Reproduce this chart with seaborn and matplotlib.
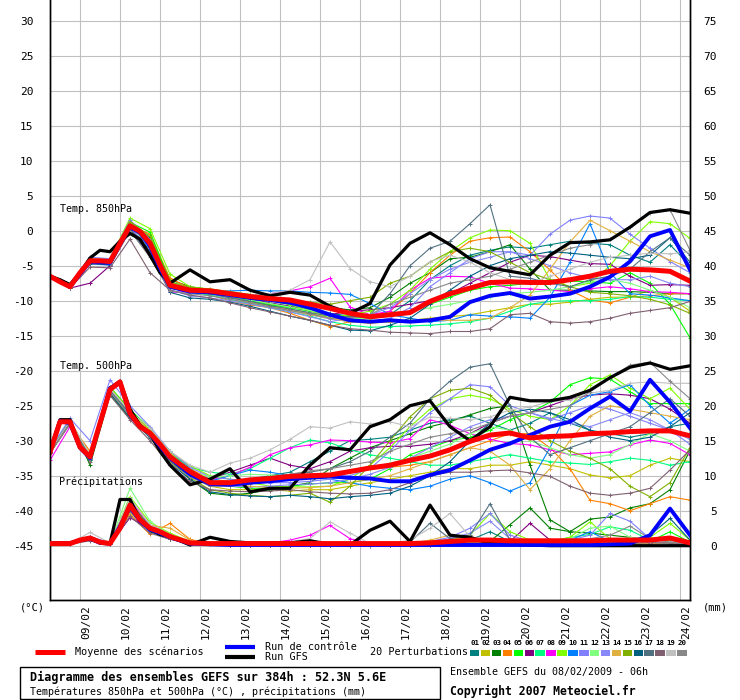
import matplotlib
matplotlib.use("Agg")
import matplotlib.pyplot as plt
import seaborn as sns
from matplotlib.lines import Line2D
from matplotlib.patches import Rectangle
from matplotlib.transforms import ScaledTranslation

# ---------------- data ----------------
MAIN_HOURS = [0, 6, 12, 18, 24, 30, 36, 42, 48, 54, 60, 66, 72,
              84, 96, 108, 120, 132, 144, 156, 168, 180, 192, 204, 216, 228,
              240, 252, 264, 276, 288, 300, 312, 324, 336, 348, 360, 372, 384]
PERT_HOURS = [0, 12, 24, 36, 48, 60, 72, 84, 96, 108, 120, 132, 144, 156,
              168, 180, 192, 204, 216, 228, 240, 252, 264, 276, 288, 300,
              312, 324, 336, 348, 360, 372, 384]
DAY_HOURS = [18, 42, 66, 90, 114, 138, 162, 186, 210, 234, 258, 282, 306, 330, 354, 378]
DAY_LABELS = ["09/02", "10/02", "11/02", "12/02", "13/02", "14/02", "15/02", "16/02",
              "17/02", "18/02", "19/02", "20/02", "21/02", "22/02", "23/02", "24/02"]

T850_MEAN = [-6.5, -7.3, -8.0, -6.0, -4.3, -4.3, -4.4, -1.8, 0.7, -0.1, -1.8, -4.9, -7.8,
             -8.5, -8.6, -9.0, -9.4, -9.7, -9.9, -10.5, -11.1, -11.8, -12.3, -12.0, -11.7, -10.1,
             -9.0, -8.2, -7.4, -7.3, -7.4, -7.4, -7.0, -6.5, -5.8, -5.5, -5.6, -5.8, -7.2]
T850_CTRL = [-6.5, -7.3, -8.0, -6.2, -4.4, -4.5, -4.6, -1.8, 0.5, -0.3, -2.2, -5.4, -8.0,
             -8.7, -8.8, -9.2, -9.6, -9.9, -10.3, -11.0, -12.0, -12.8, -13.0, -12.8, -13.0, -12.8,
             -12.3, -10.2, -9.3, -8.9, -9.7, -9.4, -9.0, -8.0, -6.6, -4.4, -0.8, 0.1, -5.6]
T850_GFS = [-6.5, -7.0, -7.7, -6.0, -3.9, -2.8, -3.0, -1.5, -0.4, -1.2, -3.5, -6.0, -7.5,
            -5.6, -7.3, -7.0, -8.5, -9.3, -8.8, -9.2, -10.8, -11.8, -10.4, -4.9, -1.8, -0.3,
            -2.0, -4.0, -5.3, -5.8, -6.3, -3.5, -1.7, -1.6, -1.3, 0.5, 2.6, 3.0, 2.5]

T500_MEAN = [-31.6, -27.3, -27.3, -30.9, -32.3, -27.5, -22.7, -21.6, -26.1, -28.0, -28.9, -30.5, -32.3,
             -34.4, -36.0, -36.0, -35.6, -35.4, -35.1, -35.0, -34.9, -34.4, -33.9, -33.5, -32.8, -32.2,
             -31.3, -30.1, -29.2, -28.9, -29.6, -29.4, -29.3, -29.0, -28.9, -28.7, -28.6, -28.6, -29.3]
T500_CTRL = [-31.5, -27.2, -27.5, -31.0, -32.5, -27.5, -22.5, -21.8, -26.3, -28.0, -29.0, -30.8, -32.5,
             -34.8, -36.2, -36.3, -36.0, -35.8, -35.5, -35.3, -35.1, -35.3, -35.4, -35.8, -35.8, -34.9,
             -34.2, -32.8, -31.3, -30.4, -29.2, -28.0, -27.3, -25.4, -23.7, -25.8, -21.3, -24.5, -28.2]
T500_GFS = [-31.6, -27.0, -27.0, -31.0, -32.5, -27.5, -22.5, -21.5, -25.5, -27.8, -29.0, -31.5, -33.5,
            -36.3, -35.5, -34.0, -37.3, -36.8, -36.8, -33.5, -31.0, -31.3, -28.0, -27.0, -25.0, -24.3,
            -28.0, -30.0, -28.0, -23.8, -24.3, -24.3, -23.8, -22.8, -21.0, -19.5, -18.9, -19.8, -19.3]

PRECIP_MEAN = [0.3, 0.3, 0.3, 0.8, 1.1, 0.5, 0.3, 2.5, 5.8, 3.7, 2.5, 2.0, 1.3,
               0.4, 0.3, 0.3, 0.3, 0.3, 0.3, 0.3, 0.3, 0.3, 0.3, 0.3, 0.3, 0.4,
               0.6, 0.8, 0.8, 0.7, 0.7, 0.7, 0.7, 0.7, 0.8, 0.8, 0.8, 1.1, 0.4]
PRECIP_CTRL = [0.3, 0.3, 0.3, 0.8, 1.0, 0.4, 0.3, 2.8, 5.5, 3.5, 2.3, 1.8, 1.2,
               0.3, 0.2, 0.1, 0.1, 0.1, 0.1, 0.1, 0.1, 0.1, 0.1, 0.1, 0.1, 0.1,
               0.1, 0.1, 0.1, 0.1, 0.1, 0.1, 0.1, 0.1, 0.2, 0.3, 1.5, 5.3, 1.5]
PRECIP_GFS = [0.4, 0.4, 0.4, 0.8, 1.0, 0.4, 0.3, 6.6, 6.6, 3.7, 2.3, 1.6, 1.3,
              0.1, 1.2, 0.6, 0.4, 0.4, 0.4, 0.7, 0.2, 0.1, 2.2, 3.5, 0.6, 5.8,
              1.5, 1.2, 0.3, 0.2, 0.1, 0.0, 0.0, 0.0, 0.0, 0.0, 0.0, 0.0, 0.0]

PERT_LABELS = ["01", "02", "03", "04", "05", "06", "07", "08", "09", "10",
               "11", "12", "13", "14", "15", "16", "17", "18", "19", "20"]
PERT_COLORS = ["#008080", "#c0c000", "#008000", "#ff8000", "#00ff00", "#800080", "#00ff80",
               "#ff00ff", "#80ff00", "#0080ff", "#8080ff", "#80ff80", "#8888f8", "#e0b040",
               "#80b000", "#006080", "#507080", "#806070", "#c0c0c0", "#888888"]

T850_PERTS = [
    [-6.5, -7.9, -4.5, -4.8, 0.2, -3.0, -8.2, -8.8, -9.0, -9.5, -10.0, -10.4, -10.8, -11.2, -11.8, -12.2, -12.3, -12.0, -10.0, -7.0, -5.0, -3.5, -2.8, -2.3, -2.5, -2.0, -1.5, -1.8, -2.0, -3.5, -4.5, -2.0, -5.0],
    [-6.6, -8.1, -4.0, -4.2, 1.5, -1.5, -7.5, -8.3, -8.5, -9.2, -9.8, -10.5, -11.2, -11.8, -12.5, -13.0, -13.2, -13.0, -12.8, -12.5, -12.3, -12.0, -11.5, -11.0, -10.5, -10.5, -10.2, -9.8, -9.5, -9.5, -8.5, -9.5, -11.5],
    [-6.4, -7.9, -4.2, -4.3, 1.0, -1.0, -7.0, -8.0, -8.4, -8.8, -9.3, -9.8, -10.2, -10.6, -11.0, -11.3, -11.0, -9.5, -7.5, -6.0, -4.0, -3.8, -3.0, -2.0, -5.5, -8.5, -8.5, -8.6, -8.7, -8.7, -8.8, -9.0, -9.0],
    [-6.5, -8.0, -4.4, -4.6, 0.8, -0.5, -6.8, -8.2, -9.2, -10.0, -10.6, -11.0, -11.8, -12.8, -13.7, -13.0, -12.5, -11.5, -9.0, -6.0, -3.5, -1.5, -1.0, -0.9, -3.0, -5.6, -8.5, -9.9, -10.3, -9.5, -9.3, -9.0, -9.0],
    [-6.5, -8.0, -4.3, -4.2, 1.2, -0.2, -7.2, -8.4, -8.8, -9.4, -10.0, -10.6, -11.0, -11.5, -12.0, -12.3, -12.5, -12.2, -11.5, -10.5, -9.5, -8.5, -8.0, -7.8, -7.5, -7.0, -7.2, -7.3, -7.5, -6.0, -7.5, -10.5, -15.3],
    [-6.7, -8.2, -7.5, -5.0, 0.0, -3.5, -8.0, -8.6, -8.9, -9.3, -9.8, -10.3, -10.8, -11.4, -12.0, -11.5, -11.3, -11.0, -10.5, -10.0, -9.0, -7.5, -6.0, -4.5, -3.5, -3.7, -4.2, -4.7, -4.8, -6.5, -7.8, -7.7, -7.8],
    [-6.5, -8.0, -4.5, -4.6, 0.6, -2.0, -8.0, -8.8, -9.2, -9.8, -10.4, -11.0, -11.6, -12.2, -13.0, -13.5, -13.8, -13.7, -13.6, -13.5, -13.3, -13.0, -12.5, -11.5, -10.5, -10.1, -10.0, -10.0, -9.8, -9.4, -9.5, -9.8, -10.0],
    [-6.6, -8.1, -4.6, -4.7, 0.4, -3.2, -8.8, -8.7, -8.8, -9.0, -9.2, -9.0, -8.6, -8.0, -6.8, -10.9, -12.0, -11.5, -8.5, -6.8, -6.5, -6.6, -7.5, -8.2, -8.3, -8.5, -8.7, -8.3, -8.0, -8.3, -8.7, -8.8, -9.0],
    [-6.5, -7.9, -4.1, -4.0, 1.8, 0.3, -6.2, -8.0, -8.4, -8.9, -9.4, -10.0, -10.6, -11.4, -12.5, -12.0, -11.5, -10.5, -8.5, -5.5, -3.0, -1.0, 0.1, 0.0, -1.8, -7.0, -8.0, -7.5, -5.0, -1.5, 1.3, 1.0, -1.1],
    [-6.5, -8.0, -4.4, -4.5, 0.5, -2.6, -8.0, -8.6, -8.7, -8.6, -8.5, -8.6, -8.6, -8.8, -8.9, -9.1, -10.4, -12.0, -12.5, -13.0, -12.8, -12.0, -12.2, -12.3, -12.5, -9.5, -4.5, 1.0, -6.0, -9.0, -9.2, -9.6, -10.0],
    [-6.4, -7.8, -3.8, -4.0, 1.5, -1.2, -7.5, -8.6, -9.0, -9.6, -10.2, -10.8, -11.4, -12.0, -12.6, -13.0, -13.0, -12.5, -11.0, -8.0, -6.0, -4.0, -3.0, -3.0, -3.5, -0.5, 1.5, 2.1, 1.8, -0.5, -2.5, -4.4, -6.0],
    [-6.5, -8.0, -4.2, -4.4, 1.0, -1.6, -7.6, -8.5, -8.9, -9.4, -9.9, -10.4, -10.9, -11.4, -12.0, -12.5, -12.6, -12.0, -11.5, -11.0, -10.5, -10.0, -9.5, -9.0, -8.8, -8.5, -8.0, -7.3, -7.0, -7.5, -8.5, -9.5, -11.0],
    [-6.6, -8.1, -4.8, -4.9, 0.3, -2.2, -8.4, -9.3, -9.6, -10.0, -10.5, -11.0, -11.6, -12.3, -13.0, -12.5, -12.0, -11.0, -9.0, -7.0, -5.5, -4.5, -3.8, -3.0, -4.0, -5.0, -6.0, -6.8, -7.0, -7.0, -6.5, -7.5, -8.0],
    [-6.5, -8.0, -4.3, -4.3, 0.9, -1.9, -7.4, -8.3, -8.8, -9.5, -10.2, -10.8, -11.4, -12.0, -12.5, -13.0, -13.2, -13.0, -13.0, -12.8, -12.8, -12.8, -12.5, -11.0, -9.2, -5.5, -1.6, 1.5, 0.0, -1.5, -3.0, -4.2, -5.3],
    [-6.5, -7.9, -4.2, -4.1, 1.3, -0.8, -7.3, -8.1, -8.3, -8.7, -9.1, -9.5, -9.9, -10.2, -10.5, -10.0, -9.5, -7.5, -6.5, -4.5, -3.0, -2.5, -3.0, -4.5, -6.0, -7.0, -8.0, -8.8, -9.0, -9.3, -9.8, -10.6, -11.8],
    [-6.6, -8.2, -4.7, -4.9, 0.1, -3.3, -8.8, -9.6, -9.8, -10.2, -10.8, -11.5, -12.2, -12.8, -13.5, -14.2, -14.3, -13.5, -12.5, -10.5, -8.5, -6.5, -5.0, -4.0, -3.5, -3.0, -3.2, -3.5, -3.8, -4.0, -3.5, -1.0, -4.5],
    [-6.5, -8.0, -4.4, -4.6, 0.2, -2.8, -8.0, -8.7, -9.0, -9.6, -10.1, -10.7, -11.2, -11.7, -12.2, -12.3, -12.0, -9.0, -5.0, -2.5, -1.5, 1.0, 3.7, -6.5, -6.8, -7.5, -8.0, -7.0, -6.5, -5.5, -3.0, -1.0, -3.5],
    [-6.7, -8.2, -5.2, -5.3, -1.2, -6.0, -8.5, -9.2, -9.6, -10.3, -11.0, -11.6, -12.2, -12.8, -13.5, -14.0, -14.2, -14.5, -14.6, -14.7, -14.4, -14.4, -14.0, -12.0, -11.8, -13.0, -13.2, -13.0, -12.5, -11.8, -11.4, -11.0, -10.1],
    [-6.5, -8.0, -4.3, -4.6, 0.6, -2.4, -7.8, -8.4, -8.6, -8.9, -9.2, -9.0, -8.5, -7.0, -1.6, -5.4, -7.3, -8.0, -6.5, -4.4, -3.5, -4.5, -6.0, -7.0, -7.5, -6.5, -5.5, -4.5, -3.8, -3.5, -3.2, -3.3, -3.0],
    [-6.5, -8.0, -4.5, -4.7, 0.0, -3.8, -8.6, -9.0, -9.3, -9.8, -10.3, -10.9, -11.4, -11.9, -12.5, -12.5, -12.0, -10.5, -9.5, -8.5, -7.5, -7.0, -6.5, -5.5, -4.5, -3.5, -2.5, -2.0, -1.2, 0.5, 2.5, 3.0, -2.8],
]

T500_PERTS = [
    [-31.5, -27.2, -32.8, -23.0, -26.5, -29.5, -33.0, -35.0, -36.2, -35.8, -35.5, -35.0, -34.5, -33.0, -31.5, -30.0, -29.8, -29.5, -28.5, -27.5, -27.0, -26.5, -27.5, -28.5, -27.5, -26.0, -27.5, -28.5, -29.0, -29.5, -29.0, -28.0, -27.5],
    [-31.8, -27.5, -32.0, -22.5, -25.5, -28.5, -32.0, -34.5, -36.5, -37.0, -37.0, -37.0, -37.2, -37.0, -37.0, -36.5, -36.0, -35.5, -35.0, -34.5, -34.0, -34.0, -33.5, -33.5, -33.0, -33.5, -34.0, -34.9, -35.3, -35.0, -33.5, -32.5, -33.0],
    [-31.5, -27.0, -33.5, -23.5, -26.8, -29.0, -32.5, -35.5, -37.5, -37.8, -37.5, -37.0, -36.5, -36.0, -34.0, -32.5, -31.0, -30.0, -29.0, -28.0, -27.3, -26.3, -25.4, -25.0, -33.5, -41.3, -43.0, -41.2, -40.9, -39.6, -39.0, -37.0, -31.4],
    [-31.3, -27.6, -31.5, -22.8, -26.0, -28.6, -31.8, -34.0, -35.5, -35.8, -36.0, -35.8, -35.5, -35.2, -35.0, -34.5, -34.0, -33.8, -33.5, -33.0, -32.0, -31.0, -30.0, -29.0, -29.0, -31.0, -34.0, -38.5, -39.0, -40.0, -39.0, -38.0, -38.5],
    [-31.6, -27.3, -32.0, -22.3, -25.6, -28.2, -31.5, -34.0, -36.0, -36.5, -36.8, -36.8, -36.5, -36.2, -36.0, -36.0, -35.5, -34.0, -32.0, -31.0, -30.0, -29.5, -28.5, -27.0, -26.0, -24.5, -22.0, -21.0, -21.2, -23.0, -24.7, -24.7, -24.7],
    [-31.7, -27.4, -32.5, -23.0, -26.3, -29.3, -32.8, -34.5, -35.5, -34.5, -33.5, -32.5, -33.5, -34.0, -33.0, -31.5, -31.0, -30.8, -30.8, -30.5, -30.0, -29.0, -27.5, -26.5, -26.0, -25.0, -24.0, -23.5, -23.3, -23.5, -24.0, -25.5, -27.5],
    [-31.4, -27.1, -32.2, -22.6, -26.0, -28.8, -32.0, -33.8, -34.5, -34.8, -34.0, -32.5, -31.0, -29.9, -30.3, -31.3, -32.0, -32.5, -33.0, -33.5, -33.5, -33.0, -32.5, -32.0, -32.5, -33.0, -33.2, -33.4, -33.0, -32.5, -32.8, -33.5, -33.0],
    [-32.8, -28.0, -32.6, -22.9, -26.4, -29.2, -32.6, -34.6, -35.6, -35.0, -33.8, -32.0, -31.0, -30.6, -29.9, -30.0, -30.2, -30.3, -29.7, -27.0, -27.8, -29.0, -29.8, -30.4, -30.6, -31.3, -32.0, -31.8, -31.6, -30.6, -29.9, -30.4, -32.0],
    [-31.5, -27.2, -32.4, -22.4, -25.8, -28.4, -31.6, -33.6, -35.0, -35.5, -36.0, -36.5, -36.6, -36.6, -36.5, -35.5, -33.5, -31.0, -28.0, -25.5, -24.0, -23.5, -24.0, -25.5, -26.5, -27.0, -25.0, -22.0, -20.6, -22.5, -24.0, -22.5, -25.5],
    [-31.6, -27.3, -32.1, -22.7, -26.2, -29.0, -32.4, -34.6, -35.8, -35.0, -34.2, -34.5, -35.0, -35.3, -35.5, -36.0, -36.5, -36.8, -37.0, -36.5, -35.5, -35.0, -36.0, -37.2, -36.0, -31.0, -25.0, -23.5, -23.0, -22.0, -25.0, -27.5, -25.5],
    [-31.2, -26.8, -30.0, -21.3, -25.0, -28.0, -31.5, -33.8, -35.2, -35.5, -35.8, -36.0, -36.0, -35.8, -35.5, -35.0, -34.0, -31.5, -28.5, -26.0, -24.0, -22.0, -22.3, -25.0, -26.0, -27.0, -26.0, -25.0, -25.5, -26.5, -27.5, -28.5, -30.5],
    [-31.5, -27.4, -32.3, -22.6, -26.1, -29.0, -32.4, -34.4, -35.2, -35.0, -34.8, -34.9, -35.0, -35.0, -35.0, -34.5, -34.0, -33.2, -32.5, -31.5, -30.5, -29.0, -28.0, -28.5, -30.0, -31.0, -32.0, -32.5, -32.0, -30.5, -29.0, -30.0, -31.5],
    [-31.7, -27.5, -32.6, -22.9, -26.3, -29.2, -32.7, -35.0, -36.3, -36.5, -36.6, -36.5, -36.3, -36.2, -36.0, -35.5, -34.8, -33.8, -32.5, -31.0, -29.5, -28.0, -27.0, -26.5, -26.0, -26.8, -27.5, -28.0, -27.0, -26.0, -27.0, -28.5, -29.8],
    [-31.5, -27.2, -32.0, -22.5, -25.9, -28.7, -32.2, -34.2, -35.8, -36.2, -36.5, -36.7, -36.8, -36.7, -36.5, -36.0, -35.5, -35.0, -34.0, -33.0, -32.0, -31.0, -31.5, -33.5, -37.0, -34.0, -30.0, -26.5, -25.0, -25.5, -26.0, -26.5, -27.0],
    [-31.6, -27.3, -32.5, -23.2, -26.5, -29.4, -33.0, -35.3, -37.0, -37.5, -37.8, -38.0, -37.8, -37.5, -38.8, -36.5, -33.5, -30.0, -26.6, -24.0, -22.8, -22.5, -23.5, -26.0, -28.0, -30.0, -31.5, -32.5, -34.0, -36.5, -38.0, -36.0, -31.0],
    [-31.6, -27.4, -32.8, -23.3, -26.7, -29.6, -33.2, -35.5, -37.3, -37.7, -37.9, -38.0, -37.8, -38.0, -38.3, -38.0, -37.8, -37.5, -36.5, -35.0, -33.0, -30.0, -27.5, -26.0, -25.5, -26.0, -27.0, -28.5, -29.5, -30.0, -29.5, -28.0, -26.0],
    [-31.5, -27.2, -32.3, -22.8, -26.2, -29.0, -32.5, -34.7, -36.0, -36.2, -35.8, -35.2, -34.8, -34.5, -34.0, -33.0, -31.5, -29.5, -27.5, -24.0, -21.5, -19.5, -19.0, -25.0, -29.5, -32.0, -31.0, -30.0, -29.0, -28.0, -26.0, -24.0, -26.5],
    [-31.8, -27.6, -33.0, -23.5, -27.0, -30.0, -33.5, -35.8, -37.0, -37.2, -37.3, -37.2, -37.0, -37.3, -37.5, -37.6, -37.5, -37.0, -36.0, -35.0, -34.5, -34.5, -34.3, -34.2, -34.6, -35.1, -36.5, -37.5, -37.8, -37.5, -36.8, -34.2, -31.3],
    [-31.5, -27.2, -32.0, -22.6, -25.8, -28.2, -31.5, -33.5, -34.5, -33.2, -32.5, -31.3, -29.8, -28.0, -28.2, -27.3, -27.6, -27.3, -28.0, -26.6, -26.8, -27.0, -26.6, -25.6, -25.2, -24.4, -24.2, -23.2, -22.8, -21.8, -21.6, -21.8, -21.8],
    [-31.7, -27.5, -32.6, -23.0, -26.5, -29.5, -33.2, -35.2, -36.5, -36.5, -36.2, -35.5, -34.8, -34.3, -34.0, -33.5, -33.0, -31.5, -30.5, -29.5, -29.0, -28.5, -27.5, -26.5, -26.0, -25.5, -25.0, -23.0, -21.0, -19.2, -18.8, -21.5, -24.0],
]

PRECIP_PERTS = [
    [0.3, 0.3, 1.2, 0.4, 5.5, 2.2, 1.0, 0.3, 0.2, 0.1, 0.1, 0.2, 0.3, 0.2, 0.1, 0.0, 0.0, 0.1, 0.3, 0.2, 0.5, 0.8, 2.0, 0.6, 0.4, 0.3, 0.2, 0.3, 0.5, 0.4, 0.3, 0.6, 0.2],
    [0.4, 0.3, 0.8, 0.3, 6.2, 2.8, 1.5, 0.5, 0.3, 0.2, 0.2, 0.1, 0.1, 0.1, 0.1, 0.1, 0.1, 0.2, 0.2, 0.3, 0.4, 0.5, 0.5, 0.6, 0.8, 0.5, 0.4, 0.5, 0.6, 0.4, 0.6, 1.0, 0.3],
    [0.3, 0.4, 1.0, 0.2, 4.8, 2.0, 1.0, 0.3, 0.2, 0.3, 0.4, 0.3, 0.2, 0.2, 0.1, 0.1, 0.2, 0.3, 0.4, 0.5, 0.6, 0.5, 0.6, 3.0, 5.4, 2.5, 2.0, 1.8, 1.5, 1.2, 0.8, 0.5, 0.3],
    [0.3, 0.3, 0.9, 0.3, 4.5, 1.6, 3.2, 0.9, 0.3, 0.2, 0.1, 0.1, 0.2, 0.1, 0.2, 0.3, 0.2, 0.2, 0.1, 0.2, 0.3, 0.2, 0.3, 0.5, 0.4, 0.6, 0.3, 0.4, 0.3, 0.2, 0.3, 0.5, 0.2],
    [0.3, 0.3, 1.1, 0.3, 6.0, 2.6, 1.3, 0.4, 0.2, 0.1, 0.1, 0.1, 0.1, 0.1, 0.1, 0.2, 0.1, 0.1, 0.2, 0.3, 0.2, 0.4, 0.5, 0.4, 0.6, 0.5, 0.4, 0.6, 0.5, 0.4, 0.6, 2.0, 0.5],
    [0.2, 0.2, 0.9, 0.2, 4.0, 2.4, 1.2, 0.4, 0.2, 0.1, 0.2, 0.3, 0.2, 0.2, 0.1, 0.1, 0.1, 0.1, 0.2, 0.2, 0.3, 0.3, 0.4, 0.6, 3.2, 0.8, 0.5, 0.4, 0.3, 0.3, 0.4, 0.3, 0.2],
    [0.3, 0.3, 1.0, 0.3, 5.8, 2.7, 1.4, 0.4, 0.2, 0.1, 0.1, 0.1, 0.2, 0.2, 0.3, 0.2, 0.1, 0.1, 0.2, 0.2, 0.3, 0.4, 0.5, 0.5, 0.4, 0.5, 1.2, 1.6, 2.7, 2.2, 0.8, 0.6, 0.3],
    [0.3, 0.4, 1.2, 0.4, 6.5, 3.0, 1.6, 0.5, 0.3, 0.2, 0.3, 0.4, 0.8, 1.5, 2.9, 1.0, 0.3, 0.2, 0.2, 0.3, 0.2, 0.3, 0.4, 0.3, 0.3, 0.2, 0.3, 0.3, 0.4, 0.3, 0.3, 0.4, 0.2],
    [0.3, 0.3, 0.9, 0.3, 7.0, 3.3, 1.8, 0.6, 0.3, 0.2, 0.2, 0.2, 0.2, 0.2, 0.2, 0.1, 0.2, 0.3, 0.4, 0.6, 0.8, 1.5, 4.6, 2.0, 0.8, 0.6, 1.2, 3.4, 1.0, 0.8, 1.2, 3.2, 0.8],
    [0.3, 0.3, 1.0, 0.3, 5.0, 2.1, 1.1, 0.3, 0.2, 0.1, 0.1, 0.1, 0.1, 0.1, 0.1, 0.1, 0.1, 0.1, 0.1, 0.1, 0.2, 0.2, 0.2, 0.3, 0.3, 0.4, 0.8, 2.0, 0.6, 0.4, 0.3, 0.3, 0.2],
    [0.3, 0.3, 1.3, 0.4, 5.2, 2.3, 1.1, 0.3, 0.2, 0.1, 0.2, 0.2, 0.2, 0.2, 0.2, 0.1, 0.2, 0.2, 0.3, 0.6, 1.2, 2.5, 4.6, 1.5, 0.6, 0.5, 0.8, 1.5, 4.6, 3.5, 1.0, 0.6, 0.3],
    [0.3, 0.3, 0.8, 0.3, 8.2, 3.5, 1.5, 0.5, 0.3, 0.2, 0.1, 0.1, 0.1, 0.1, 0.1, 0.1, 0.1, 0.1, 0.2, 0.2, 0.3, 0.4, 0.5, 0.6, 0.5, 0.6, 1.0, 2.5, 2.8, 1.2, 0.6, 0.4, 0.3],
    [0.3, 0.3, 1.1, 0.3, 5.6, 2.5, 1.2, 0.4, 0.2, 0.1, 0.1, 0.1, 0.1, 0.1, 0.1, 0.1, 0.1, 0.2, 0.2, 0.5, 1.0, 1.8, 3.5, 1.0, 0.5, 0.4, 0.4, 0.5, 0.6, 0.5, 0.4, 0.5, 0.2],
    [0.3, 0.3, 0.9, 0.3, 4.6, 2.9, 2.5, 0.8, 0.3, 0.2, 0.2, 0.1, 0.1, 0.1, 0.1, 0.1, 0.2, 0.2, 0.3, 0.8, 1.5, 1.0, 0.6, 0.4, 0.5, 0.4, 0.3, 0.4, 0.5, 0.4, 0.3, 0.4, 0.2],
    [0.3, 0.3, 1.0, 0.3, 6.3, 2.6, 1.4, 0.4, 0.2, 0.1, 0.1, 0.1, 0.1, 0.1, 0.1, 0.1, 0.1, 0.1, 0.2, 0.2, 0.2, 0.3, 0.4, 0.5, 0.6, 0.4, 0.5, 0.6, 0.5, 0.4, 0.5, 0.8, 0.3],
    [0.3, 0.3, 1.0, 0.3, 5.3, 2.2, 1.1, 0.3, 0.2, 0.1, 0.1, 0.1, 0.1, 0.1, 0.1, 0.1, 0.1, 0.1, 0.2, 0.2, 0.3, 0.3, 0.4, 0.4, 0.3, 0.3, 0.4, 0.5, 0.6, 0.8, 1.5, 3.9, 0.8],
    [0.3, 0.3, 1.0, 0.3, 6.0, 2.8, 1.5, 0.5, 0.3, 0.2, 0.2, 0.2, 0.2, 0.2, 0.3, 0.2, 0.2, 0.3, 0.5, 3.2, 1.0, 1.5, 6.0, 0.8, 0.4, 0.3, 0.3, 0.3, 0.4, 0.4, 0.5, 1.0, 0.4],
    [0.2, 0.2, 0.7, 0.2, 4.2, 1.8, 0.9, 0.3, 0.2, 0.1, 0.1, 0.1, 0.1, 0.1, 0.1, 0.1, 0.1, 0.1, 0.1, 0.1, 0.2, 0.2, 0.2, 0.2, 0.3, 0.3, 0.3, 0.3, 0.3, 0.4, 0.4, 0.4, 0.2],
    [0.3, 0.3, 1.9, 0.4, 6.8, 3.0, 1.5, 0.5, 0.3, 0.3, 0.3, 0.4, 0.6, 1.0, 3.4, 1.8, 0.3, 0.3, 0.8, 2.5, 4.6, 1.3, 0.6, 0.4, 0.3, 0.3, 0.4, 0.4, 0.5, 0.5, 0.6, 0.6, 0.3],
    [0.3, 0.3, 1.0, 0.3, 5.0, 2.4, 1.2, 0.4, 0.2, 0.1, 0.1, 0.1, 0.1, 0.1, 0.1, 0.1, 0.1, 0.1, 0.2, 0.3, 0.3, 0.4, 0.4, 0.5, 0.5, 0.6, 0.8, 1.0, 1.5, 2.8, 1.0, 0.5, 0.2],
]

TEMP_TICKS = [-45, -40, -35, -30, -25, -20, -15, -10, -5, 0, 5, 10, 15, 20, 25, 30]
MM_TICKS = [0, 5, 10, 15, 20, 25, 30, 35, 40, 45, 50, 55, 60, 65, 70, 75]

# ---------------- figure ----------------
MONO = "DejaVu Sans Mono"
plt.rcParams["font.family"] = MONO
W, H = 740, 700
fig = plt.figure(figsize=(W / 100, H / 100), dpi=100)
fig.patch.set_facecolor("white")
ax = fig.add_axes([50 / W, 100 / H, 640 / W, 600 / H])
ax2 = ax.twinx()

YMIN, YMAX = -52.76, 32.96
ax.set_xlim(0, 384)
ax.set_ylim(YMIN, YMAX)
ax2.set_ylim(YMIN + 45, YMAX + 45)


def draw(axis, hours, vals, color, lw, z, marker=None):
    sns.lineplot(x=hours, y=vals, ax=axis, color=color, linewidth=lw, zorder=z,
                 marker=marker, markersize=3, markeredgewidth=0.7, markeredgecolor=color,
                 legend=False, sort=False, estimator=None)


for vals, col in zip(T850_PERTS, PERT_COLORS):
    draw(ax, PERT_HOURS, vals, col, 0.8, 2, "+")
for vals, col in zip(T500_PERTS, PERT_COLORS):
    draw(ax, PERT_HOURS, vals, col, 0.8, 2, "+")
for vals, col in zip(PRECIP_PERTS, PERT_COLORS):
    draw(ax2, PERT_HOURS, vals, col, 0.8, 2, "+")

draw(ax, MAIN_HOURS, T850_GFS, "black", 2.3, 3)
draw(ax, MAIN_HOURS, T500_GFS, "black", 2.3, 3)
draw(ax2, MAIN_HOURS, PRECIP_GFS, "black", 2.3, 3)
draw(ax, MAIN_HOURS, T850_CTRL, "#0000ff", 2.8, 4)
draw(ax, MAIN_HOURS, T500_CTRL, "#0000ff", 2.8, 4)
draw(ax2, MAIN_HOURS, PRECIP_CTRL, "#0000ff", 2.8, 4)
draw(ax, MAIN_HOURS, T850_MEAN, "#ff0000", 3.6, 5)
draw(ax, MAIN_HOURS, T500_MEAN, "#ff0000", 3.6, 5)
draw(ax2, MAIN_HOURS, PRECIP_MEAN, "#ff0000", 3.6, 5)

# axes styling
ax.set_axisbelow(True)
ax.grid(True, color="#c0c0c0", linewidth=0.8)
ax2.grid(False)
ax.set_xticks(DAY_HOURS)
ax.set_xticklabels(DAY_LABELS, rotation=90, fontsize=8, family=MONO)
ax.set_yticks(TEMP_TICKS)
ax.set_yticklabels([str(t) for t in TEMP_TICKS], fontsize=8, family=MONO)
ax.tick_params(axis="x", length=0, pad=3.6)
ax.tick_params(axis="y", length=0, pad=12.0)
ax2.set_yticks(MM_TICKS)
ax2.set_yticklabels([str(t) for t in MM_TICKS], fontsize=8, family=MONO)
ax2.tick_params(axis="y", length=0, pad=19.5)
for lab in ax2.get_yticklabels():
    lab.set_ha("right")
shift = ScaledTranslation(6 / 100, 0, fig.dpi_scale_trans)
for lab in ax.get_xticklabels():
    lab.set_transform(lab.get_transform() + shift)
ax.set_xlabel("")
ax.set_ylabel("")
ax2.set_ylabel("")
for a in (ax, ax2):
    a.spines["top"].set_visible(False)
    for s in ("left", "right", "bottom"):
        a.spines[s].set_color("black")
        a.spines[s].set_linewidth(1.0)
ax.set_facecolor("white")

# in-plot captions
ax.text(6, 3.1, "Temp. 850hPa", fontsize=7.2, family=MONO, va="center", ha="left")
ax.text(6, -19.3, "Temp. 500hPa", fontsize=7.2, family=MONO, va="center", ha="left")
ax.text(5.4, -35.8, "Précipitations", fontsize=7.2, family=MONO, va="center", ha="left")


def ftext(px, py, s, **kw):
    kw.setdefault("ha", "left")
    fig.text(px / W, 1 - py / H, s, va="center", family=MONO, **kw)


ftext(20, 607, "(°C)", fontsize=7.5)
ftext(703, 607, "(mm)", fontsize=7.5)

# legend
for (x0, x1, y, c, lw) in [(35, 65, 652, "#ff0000", 3.6), (225, 255, 647, "#0000ff", 3.0),
                           (225, 255, 657, "black", 3.0)]:
    fig.add_artist(Line2D([x0 / W, x1 / W], [1 - y / H, 1 - y / H], color=c, linewidth=lw,
                          transform=fig.transFigure, solid_capstyle="butt"))
ftext(75, 652, "Moyenne des scénarios", fontsize=7.3)
ftext(265, 647, "Run de contrôle", fontsize=7.3)
ftext(265, 657.5, "Run GFS", fontsize=7.3)
ftext(370, 652, "20 Perturbations", fontsize=7.3)
for i, (lab, col) in enumerate(zip(PERT_LABELS, PERT_COLORS)):
    x0 = 470 + i * 10.9
    fig.add_artist(Rectangle((x0 / W, 1 - 656 / H), 9.5 / W, 6 / H, facecolor=col,
                             edgecolor="none", transform=fig.transFigure))
    ftext(x0 + 4.75, 643, lab, fontsize=5.3, fontweight="bold", ha="center")

fig.add_artist(Rectangle((20 / W, 1 - 699 / H), 420 / W, 32 / H, fill=False,
                         edgecolor="black", linewidth=1.0, transform=fig.transFigure))
ftext(30, 677, "Diagramme des ensembles GEFS sur 384h : 52.3N 5.6E", fontsize=8.5, fontweight="bold")
ftext(30, 692, "Températures 850hPa et 500hPa (°C) , précipitations (mm)", fontsize=7.2)
ftext(450, 672, "Ensemble GEFS du 08/02/2009 - 06h", fontsize=7.2)
ftext(450, 691, "Copyright 2007 Meteociel.fr", fontsize=8.3, fontweight="bold")

fig.savefig("out.png", dpi=100, facecolor="white")
